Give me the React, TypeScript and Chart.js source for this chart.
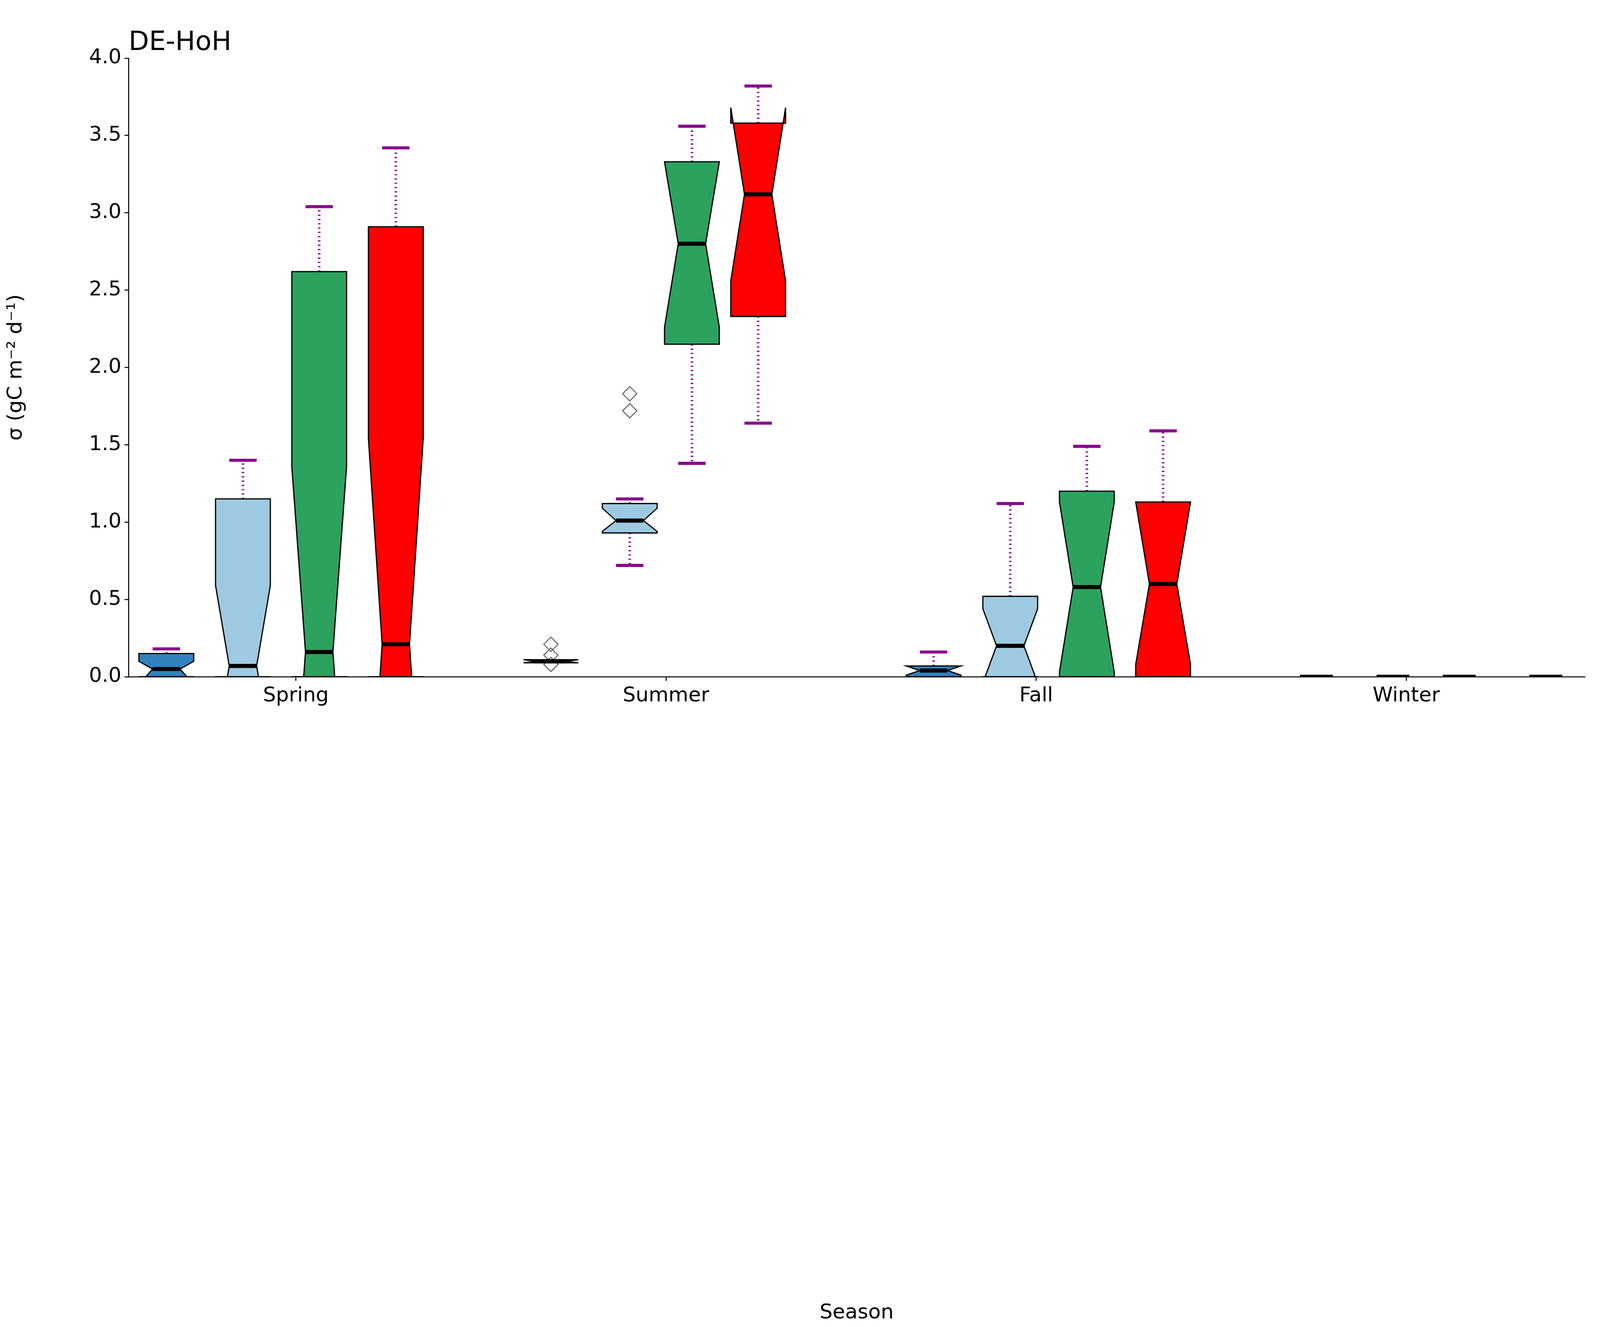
import { useEffect, useRef } from 'react';
import { Chart, registerables } from 'chart.js';

Chart.register(...registerables);

const seasons = ['Spring', 'Summer', 'Fall', 'Winter'];
const colors = ['#3182bd', '#9ecae1', '#2ca25f', '#ff0000'];

// one entry per box: season order, then series order
const positions = [0.65, 0.857, 1.063, 1.27, 1.689, 1.902, 2.07, 2.249, 2.723, 2.93, 3.137, 3.343, 3.757, 3.964, 4.143, 4.377];
const whiskerLow = [0, 0, 0, 0, 0.09, 0.72, 1.38, 1.64, 0, 0, 0, 0, 0, 0, 0, 0];
const q1 = [0, 0, 0, 0, 0.09, 0.93, 2.15, 2.33, 0, 0, 0, 0, 0, 0, 0, 0];
const medians = [0.05, 0.07, 0.16, 0.21, 0.1, 1.01, 2.8, 3.12, 0.04, 0.2, 0.58, 0.6, 0, 0, 0, 0];
const q3 = [0.15, 1.15, 2.62, 2.91, 0.11, 1.12, 3.33, 3.58, 0.07, 0.52, 1.2, 1.13, 0, 0, 0, 0];
const whiskerHigh = [0.18, 1.4, 3.04, 3.42, 0.11, 1.15, 3.56, 3.82, 0.16, 1.12, 1.49, 1.59, 0, 0, 0, 0];
const notchLow = [-0.05, -0.45, -1.04, -1.12, 0.09, 0.94, 2.26, 2.56, 0.01, -0.04, 0.03, 0.08, 0, 0, 0, 0];
const notchHigh = [0.1, 0.59, 1.36, 1.54, 0.11, 1.09, 3.33, 3.68, 0.07, 0.44, 1.13, 1.13, 0, 0, 0, 0];
const outliers = [
  { x: 1.689, y: 0.08 }, { x: 1.689, y: 0.14 }, { x: 1.689, y: 0.21 },
  { x: 1.902, y: 1.72 }, { x: 1.902, y: 1.83 },
];

const HALF = 0.074;

export default function App() {
  const ref = useRef<HTMLCanvasElement>(null);
  useEffect(() => {
    if (!ref.current) return;
    const W = window.innerWidth;
    const H = window.innerHeight;
    const S = W / 1568;
    const boxPlugin = {
      id: 'notchBoxes',
      afterDatasetsDraw(chart: any) {
        const { ctx, chartArea: a, scales: { x, y } } = chart;
        ctx.save();
        ctx.beginPath();
        ctx.rect(a.left, a.top, a.right - a.left, a.bottom - a.top);
        ctx.clip();
        positions.forEach((p, i) => {
          const l = x.getPixelForValue(p - HALF);
          const r = x.getPixelForValue(p + HALF);
          const c = x.getPixelForValue(p);
          const ln = x.getPixelForValue(p - HALF / 2);
          const rn = x.getPixelForValue(p + HALF / 2);
          const Y = (v: number) => y.getPixelForValue(v);
          if (q3[i] > q1[i] + 0.05) {
            ctx.strokeStyle = '#8b008b';
            ctx.lineWidth = 2.5 * S;
            ctx.setLineDash([1.2 * S, 3 * S]);
            ctx.beginPath();
            ctx.moveTo(c, Y(q3[i])); ctx.lineTo(c, Y(whiskerHigh[i]));
            ctx.moveTo(c, Y(q1[i])); ctx.lineTo(c, Y(whiskerLow[i]));
            ctx.stroke();
            ctx.setLineDash([]);
            ctx.lineWidth = 3 * S;
            ctx.beginPath();
            ctx.moveTo(ln, Y(whiskerHigh[i])); ctx.lineTo(rn, Y(whiskerHigh[i]));
            if (whiskerLow[i] > 0) { ctx.moveTo(ln, Y(whiskerLow[i])); ctx.lineTo(rn, Y(whiskerLow[i])); }
            ctx.stroke();
          }
          if (q3[i] > q1[i]) {
            ctx.beginPath();
            ctx.moveTo(l, Y(q1[i])); ctx.lineTo(r, Y(q1[i]));
            ctx.lineTo(r, Y(notchLow[i])); ctx.lineTo(rn, Y(medians[i]));
            ctx.lineTo(r, Y(notchHigh[i])); ctx.lineTo(r, Y(q3[i]));
            ctx.lineTo(l, Y(q3[i])); ctx.lineTo(l, Y(notchHigh[i]));
            ctx.lineTo(ln, Y(medians[i])); ctx.lineTo(l, Y(notchLow[i]));
            ctx.closePath();
            ctx.fillStyle = colors[i % 4];
            ctx.fill();
            ctx.strokeStyle = '#000';
            ctx.lineWidth = 1.2 * S;
            ctx.stroke();
          }
          ctx.strokeStyle = '#000';
          ctx.lineWidth = 4 * S;
          ctx.beginPath();
          const mw = q3[i] > q1[i] ? [ln, rn] : [x.getPixelForValue(p - HALF * 0.6), x.getPixelForValue(p + HALF * 0.6)];
          ctx.moveTo(mw[0], Y(medians[i])); ctx.lineTo(mw[1], Y(medians[i]));
          ctx.stroke();
        });
        ctx.restore();
        ctx.save();
        ctx.fillStyle = '#000';
        ctx.font = `${26 * S}px "DejaVu Sans"`;
        ctx.textAlign = 'left';
        ctx.textBaseline = 'alphabetic';
        ctx.fillText('DE-HoH', a.left, a.top - 8 * S);
        ctx.restore();
      },
    };
    const font = { family: '"DejaVu Sans"', size: 20 * S };
    const chart = new Chart(ref.current, {
      type: 'scatter',
      data: {
        datasets: [{
          data: outliers,
          pointStyle: 'rectRot',
          radius: 7 * S,
          borderColor: '#666',
          borderWidth: 1 * S,
          backgroundColor: 'rgba(0,0,0,0)',
        }],
      },
      options: {
        animation: false,
        responsive: true,
        maintainAspectRatio: false,
        layout: { padding: { top: 57 * S, right: 15 * S, left: 0, bottom: 0 } },
        plugins: { legend: { display: false }, tooltip: { enabled: false } },
        scales: {
          x: {
            type: 'linear',
            min: 0.548,
            max: 4.482,
            afterBuildTicks: (s: any) => { s.ticks = [1, 2, 3, 4].map(v => ({ value: v })); },
            afterFit: (s: any) => { s.height = H - 663 * S; },
            ticks: { callback: (v: any) => seasons[v - 1], color: '#000', font, padding: 3 * S },
            grid: { drawOnChartArea: false, tickLength: 4 * S, color: '#000', lineWidth: 1 * S },
            border: { color: '#000', width: 1 * S },
            title: { display: true, text: 'Season', color: '#000', font, padding: { top: 2 * S } },
          },
          y: {
            min: 0,
            max: 4,
            afterFit: (s: any) => { s.width = 126 * S; },
            ticks: { stepSize: 0.5, callback: (v: any) => Number(v).toFixed(1), color: '#000', font, padding: 3 * S },
            grid: { drawOnChartArea: false, tickLength: 4 * S, color: '#000', lineWidth: 1 * S },
            border: { color: '#000', width: 1 * S },
            title: { display: true, text: 'σ (gC m⁻² d⁻¹)', color: '#000', font, padding: 4 * S },
          },
        },
      },
      plugins: [boxPlugin],
    } as any);
    return () => chart.destroy();
  }, []);
  return (
    <div style={{ position: 'fixed', left: 0, top: 0, width: '100vw', height: '100vh', background: '#fff' }}>
      <canvas ref={ref}></canvas>
    </div>
  );
}
